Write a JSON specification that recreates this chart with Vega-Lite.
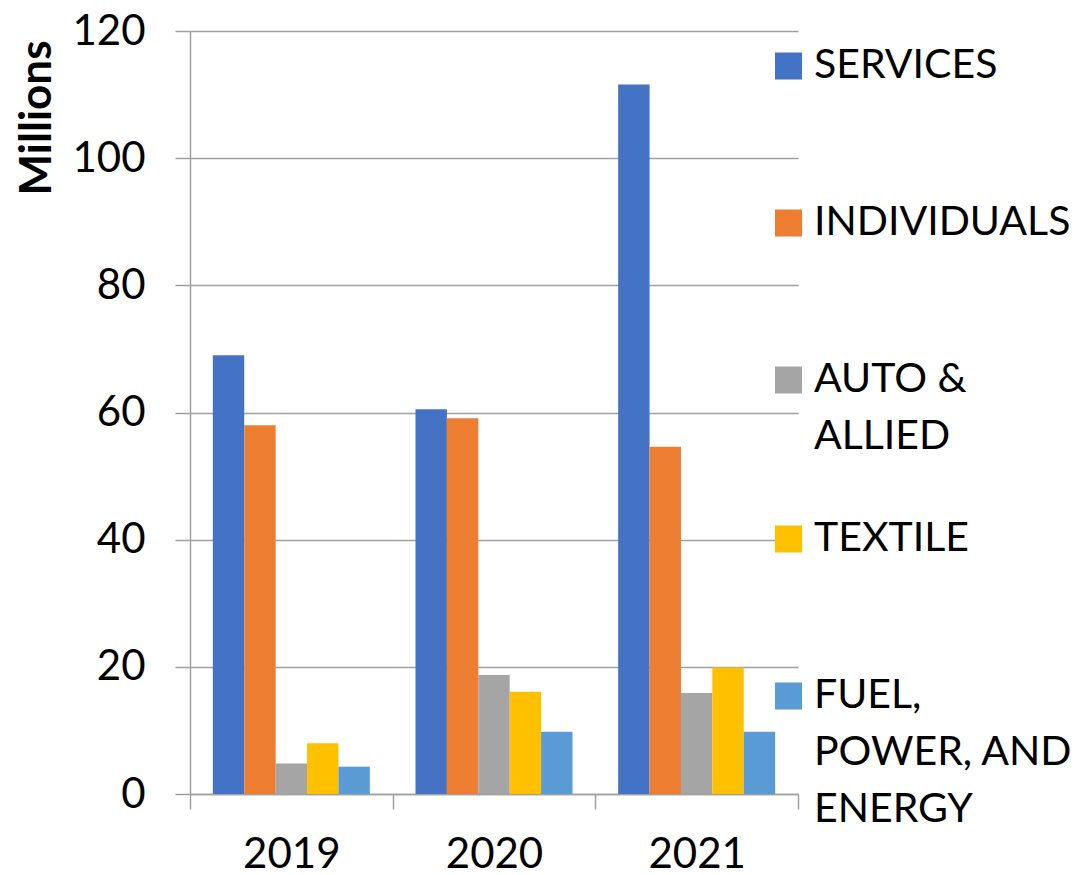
{
  "$schema": "https://vega.github.io/schema/vega-lite/v6.json",
  "autosize": "none",
  "width": 608,
  "height": 763,
  "padding": {"left": 190, "top": 31, "right": 280, "bottom": 81},
  "background": "white",
  "config": {
    "font": "Lato",
    "view": {"stroke": null},
    "style": {"guide-label": {"lineHeight": 57}}
  },
  "data": {
    "values": [
      {"year": "2019", "sector": "SERVICES", "value": 69.0},
      {"year": "2019", "sector": "INDIVIDUALS", "value": 58.0},
      {"year": "2019", "sector": "AUTO & ALLIED", "value": 4.8},
      {"year": "2019", "sector": "TEXTILE", "value": 8.0},
      {"year": "2019", "sector": "FUEL, POWER, AND ENERGY", "value": 4.3},
      {"year": "2020", "sector": "SERVICES", "value": 60.5},
      {"year": "2020", "sector": "INDIVIDUALS", "value": 59.1},
      {"year": "2020", "sector": "AUTO & ALLIED", "value": 18.7},
      {"year": "2020", "sector": "TEXTILE", "value": 16.1},
      {"year": "2020", "sector": "FUEL, POWER, AND ENERGY", "value": 9.8},
      {"year": "2021", "sector": "SERVICES", "value": 111.6},
      {"year": "2021", "sector": "INDIVIDUALS", "value": 54.6},
      {"year": "2021", "sector": "AUTO & ALLIED", "value": 15.9},
      {"year": "2021", "sector": "TEXTILE", "value": 19.9},
      {"year": "2021", "sector": "FUEL, POWER, AND ENERGY", "value": 9.8}
    ]
  },
  "mark": {"type": "bar"},
  "encoding": {
    "x": {
      "field": "year",
      "type": "nominal",
      "scale": {"paddingInner": 0, "paddingOuter": 0},
      "axis": {
        "title": null,
        "labelAngle": 0,
        "labelFontSize": 42,
        "labelColor": "black",
        "labelPadding": 25,
        "labelBaseline": "top",
        "tickBand": "extent",
        "tickSize": 15,
        "tickWidth": 1.5,
        "tickColor": "#a0a0a0",
        "domainColor": "#a0a0a0",
        "domainWidth": 1.5,
        "grid": false
      }
    },
    "xOffset": {
      "field": "sector",
      "type": "nominal",
      "sort": ["SERVICES", "INDIVIDUALS", "AUTO & ALLIED", "TEXTILE", "FUEL, POWER, AND ENERGY"],
      "scale": {"paddingInner": 0, "paddingOuter": 0.727}
    },
    "y": {
      "field": "value",
      "type": "quantitative",
      "scale": {"domain": [0, 120], "nice": false},
      "axis": {
        "values": [0, 20, 40, 60, 80, 100, 120],
        "title": "Millions",
        "titleFontSize": 44,
        "titleFontWeight": "bold",
        "titleColor": "black",
        "titleAnchor": "end",
        "titleAlign": "right",
        "titleY": 9,
        "titlePadding": 12,
        "labelFontSize": 42,
        "labelColor": "black",
        "labelPadding": 30,
        "tickSize": 15,
        "tickWidth": 1.5,
        "tickColor": "#a0a0a0",
        "gridColor": "#a0a0a0",
        "gridWidth": 1.5,
        "domainColor": "#a0a0a0",
        "domainWidth": 1.5
      }
    },
    "color": {
      "field": "sector",
      "type": "nominal",
      "sort": ["SERVICES", "INDIVIDUALS", "AUTO & ALLIED", "TEXTILE", "FUEL, POWER, AND ENERGY"],
      "scale": {
        "domain": ["SERVICES", "INDIVIDUALS", "AUTO & ALLIED", "TEXTILE", "FUEL, POWER, AND ENERGY"],
        "range": ["#4472C4", "#ED7D31", "#A5A5A5", "#FFC000", "#5B9BD5"]
      },
      "legend": {
        "title": null,
        "orient": "none",
        "legendX": 578,
        "legendY": -40,
        "padding": 0,
        "symbolType": "square",
        "symbolSize": 729,
        "symbolStrokeWidth": 0,
        "symbolOpacity": 1,
        "labelFontSize": 41,
        "labelColor": "black",
        "labelOffset": 5,
        "labelLimit": 400,
        "labelBaseline": "top",
        "clipHeight": 150,
        "rowPadding": 7,
        "labelExpr": "datum.label == 'AUTO & ALLIED' ? ['AUTO &', 'ALLIED'] : datum.label == 'FUEL, POWER, AND ENERGY' ? ['FUEL,', 'POWER, AND', 'ENERGY'] : datum.label",
        "encode": {"labels": {"update": {"dy": {"value": -20}}}}
      }
    }
  }
}
